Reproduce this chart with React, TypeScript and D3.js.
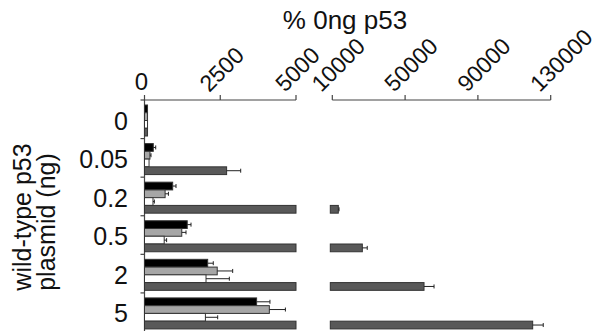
import * as d3 from "d3";

const doses = ["0", "0.05", "0.2", "0.5", "2", "5"];
const series = ["s1", "s2", "s3", "s4"];
const fills = ["#000000", "#a6a6a6", "#ffffff", "#595959"];

// value, error (upper) per series, per dose
const s1 = [100, 290, 930, 1410, 2085, 3700];
const s1Err = [100, 370, 1040, 1535, 2270, 4140];
const s2 = [100, 180, 680, 1230, 2400, 4120];
const s2Err = [100, 215, 790, 1370, 2910, 4650];
const s3 = [100, 150, 280, 650, 2030, 2010];
const s3Err = [100, 150, 325, 730, 2800, 2415];
const s4 = [100, 2710, 13300, 26500, 60400, 120100];
const s4Err = [100, 3175, 13700, 29200, 65900, 125900];

const values = [s1, s2, s3, s4];
const errs = [s1Err, s2Err, s3Err, s4Err];

const leftTicks = [0, 2500, 5000];
const rightTicks = [10000, 50000, 90000, 130000];

const font = "'Liberation Sans', Arial, sans-serif";

export default function App() {
  const width = 600;
  const height = 331;

  const xl = d3.scaleLinear().domain([0, 5000]).range([144.5, 296]).clamp(true);
  const xr = d3.scaleLinear().domain([10000, 130000]).range([332.3, 550.7]);
  const y = d3.scaleBand().domain(doses).range([100, 331.5]);
  const yIn = d3.scaleBand().domain(series).range([5, 36]);
  const axisY = 100;

  const bars: JSX.Element[] = [];
  doses.forEach((d, i) => {
    series.forEach((s, j) => {
      const v = values[j][i];
      const e = errs[j][i];
      const top = (y(d) as number) + (yIn(s) as number);
      const h = yIn.bandwidth();
      const cy = top + h / 2;
      bars.push(
        <rect key={`l${i}${j}`} x={xl(0)} y={top} width={xl(v) - xl(0)} height={h}
          fill={fills[j]} stroke="#333" strokeWidth={1} />
      );
      if (v > 5000) {
        const x0 = xr(10000) - 2;
        bars.push(
          <rect key={`r${i}${j}`} x={x0} y={top} width={xr(v) - x0} height={h}
            fill={fills[j]} stroke="#333" strokeWidth={1} />
        );
        if (e > v) {
          bars.push(
            <g key={`er${i}${j}`} stroke="#222" strokeWidth={1}>
              <line x1={xr(v)} x2={xr(e)} y1={cy} y2={cy} />
              <line x1={xr(e)} x2={xr(e)} y1={cy - 2} y2={cy + 2} />
            </g>
          );
        }
      } else if (e > v) {
        bars.push(
          <g key={`el${i}${j}`} stroke="#222" strokeWidth={1}>
            <line x1={xl(v)} x2={xl(e)} y1={cy} y2={cy} />
            <line x1={xl(e)} x2={xl(e)} y1={cy - 2} y2={cy + 2} />
          </g>
        );
      }
    });
  });

  return (
    <svg width={width} height={height} style={{ position: "absolute", left: 0, top: 0 }}
      fontFamily={font}>
      <rect width={width} height={height} fill="#fff" />
      <text x={345} y={29} fontSize={26} textAnchor="middle" fill="#111">% 0ng p53</text>

      {/* top axes */}
      <g stroke="#444" strokeWidth={1.2} fill="none">
        <line x1={xl(0)} x2={xl(5000)} y1={axisY} y2={axisY} />
        {leftTicks.map(t => (
          <line key={t} x1={xl(t)} x2={xl(t)} y1={axisY - 5} y2={axisY} />
        ))}
        <line x1={xr(10000)} x2={xr(130000)} y1={axisY} y2={axisY} />
        {rightTicks.map(t => (
          <line key={t} x1={xr(t)} x2={xr(t)} y1={axisY - 5} y2={axisY} />
        ))}
        <line x1={xl(0)} x2={xl(0)} y1={axisY} y2={height} />
        {doses.map(d => (
          <line key={d} x1={xl(0) - 4} x2={xl(0)} y1={y(d)} y2={y(d)} />
        ))}
      </g>

      <g fontSize={23} fill="#111">
        <text x={xl(0) - 3} y={90} textAnchor="middle" fontSize={24}>0</text>
        {leftTicks.slice(1).map(t => (
          <text key={t} transform={`translate(${xl(t) - 11},93) rotate(-45)`}>{d3.format("d")(t)}</text>
        ))}
        {rightTicks.map(t => (
          <text key={t} transform={`translate(${xr(t) - 11},93) rotate(-45)`}>{d3.format("d")(t)}</text>
        ))}
      </g>

      {bars}

      <g fontSize={25} fill="#111">
        {doses.map(d => (
          <text key={d} x={128} y={(y(d) as number) + 20.5 + 9} textAnchor="end">{d}</text>
        ))}
        <text transform="translate(31,217) rotate(-90)" textAnchor="middle">wild-type p53</text>
        <text transform="translate(55,222) rotate(-90)" textAnchor="middle">plasmid (ng)</text>
      </g>
    </svg>
  );
}
